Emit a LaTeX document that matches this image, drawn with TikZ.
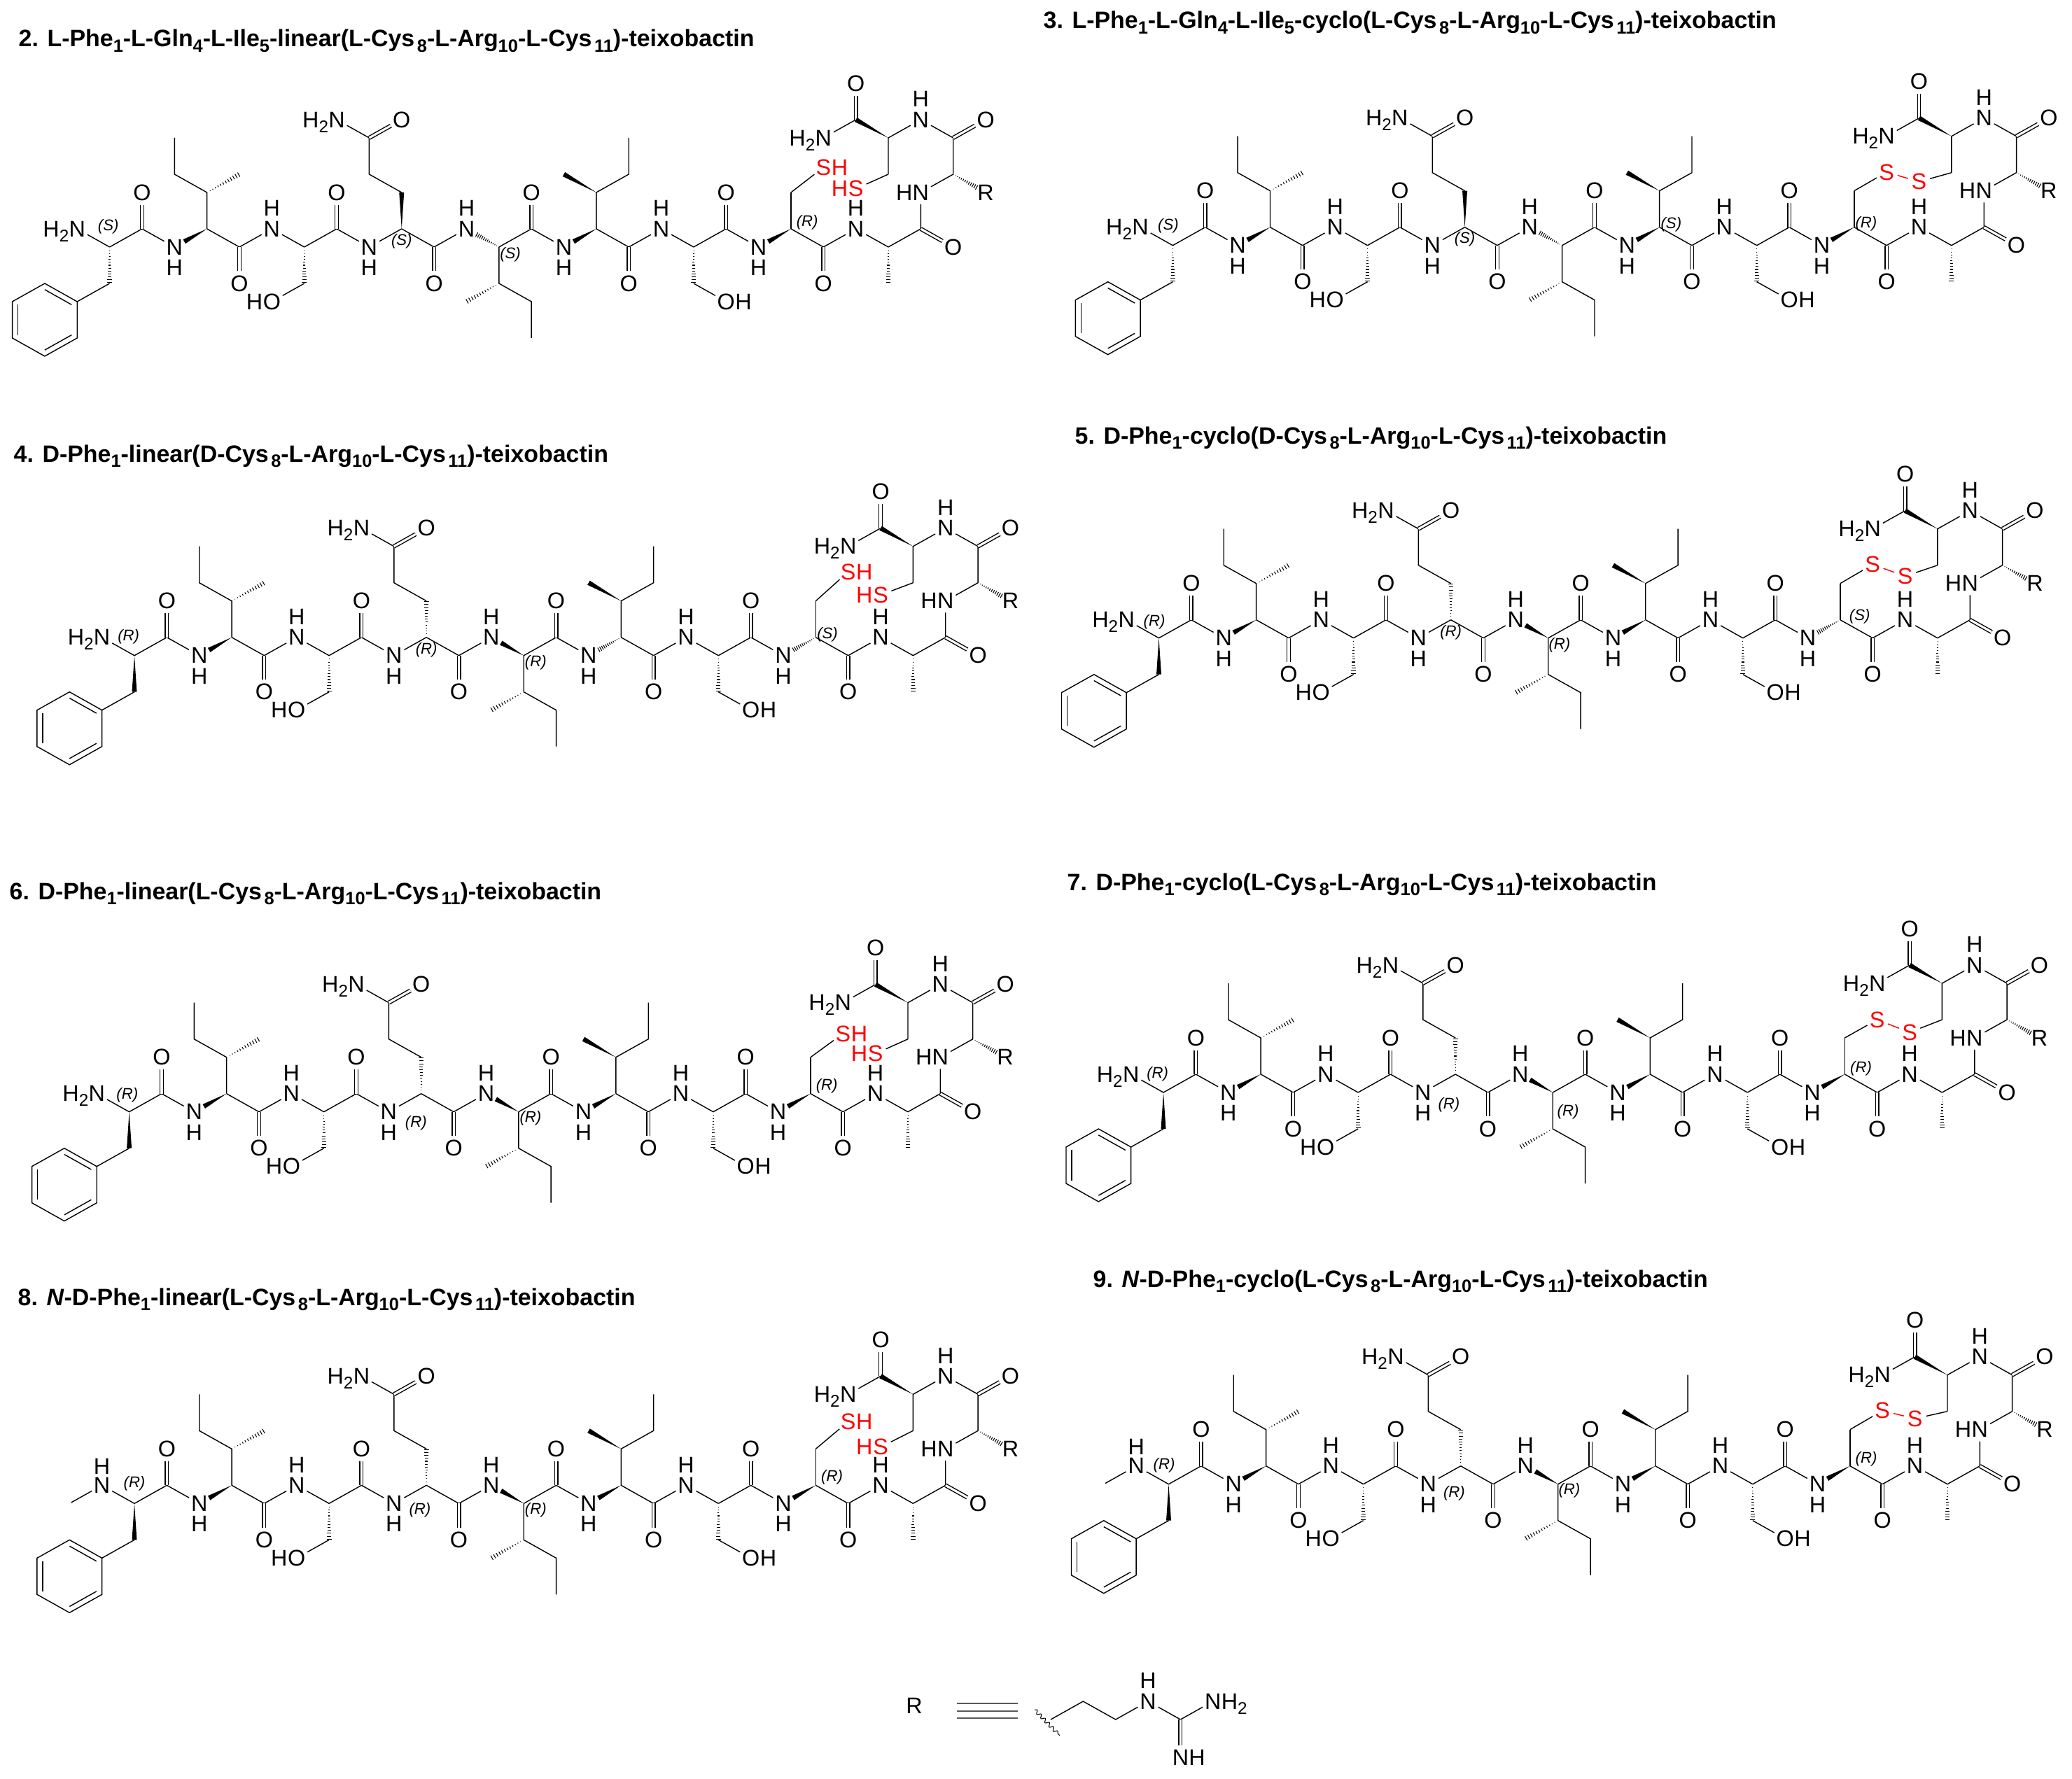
\documentclass[tikz,border=0pt]{standalone}
\usepackage{fontspec}
\setmainfont{Liberation Sans}
\usetikzlibrary{calc,decorations.pathmorphing}

\tikzset{
  atom/.style={circle, inner sep=0pt, font=\fontsize{9.2}{11}\selectfont},
  atomtxt/.style={inner sep=0pt, font=\fontsize{9.2}{11}\selectfont},
  redatom/.style={atom, text=red},
  redtxt/.style={atomtxt, text=red},
  stereo/.style={inner sep=0pt, font=\fontsize{6.3}{7}\selectfont\itshape},
  molname/.style={inner sep=0pt, anchor=base west, font=\fontsize{9.65}{11}\selectfont\bfseries},
  bond/.style={line width=.4pt},
  dbond/.style={line width=.4pt, double, double distance=.9pt},
  hashline/.style={line width=.3pt}
}

% subscript digits
\newcommand{\sbd}[1]{\raisebox{-.22em}{\scalebox{.75}{#1}}}

% narrow end at #2, wide end at #3, pulled back by #1
\newcommand{\wedgebond}[3][0cm]{
  \coordinate (wend) at ($(#3)!#1!(#2)$);
  \fill (#2) -- ($(wend)!.035cm!90:(#2)$) -- ($(wend)!.035cm!-90:(#2)$) -- cycle;
}
\newcommand{\hashbond}[3][0cm]{
  \coordinate (wend) at ($(#3)!#1!(#2)$);
  \coordinate (wl) at ($(wend)!.035cm!90:(#2)$);
  \coordinate (wr) at ($(wend)!.035cm!-90:(#2)$);
  \foreach \t in {.1,.18,...,1.02} {
    \draw [hashline] ($(#2)!\t!(wl)$) -- ($(#2)!\t!(wr)$);
  }
}

% N-terminal ends
\newcommand{\aminoend}{
  \node [atom] (nt) at (-1,1) {N};
  \node [atomtxt, anchor=base east] (nth) at ([xshift=-.113cm]nt.base) {H\sbd{2}};
  \draw [bond] (b0) -- (nt);
}
\newcommand{\methylend}{
  \node [atom] (nt) at (-1,1) {N};
  \node [atomtxt] (nth) at (-1,2.05) {H};
  \coordinate (ntm) at (-1.95,.05);
  \draw [bond] (b0) -- (nt) -- (ntm);
}

% the two sulfurs
\newcommand{\thiols}[2]{
  \node [redatom] (sa) at (22,#1) {S};
  \node [redtxt, anchor=base west] (sah) at ([xshift=.108cm]sa.base) {H};
  \node [redatom] (sb) at (23,#2) {S};
  \node [redtxt, anchor=base east] (sbh) at ([xshift=-.108cm]sb.base) {H};
  \draw [bond] (c8b) -- (sa);
  \draw [bond] (c11b) -- (sb);
}
\newcommand{\disulfide}[2]{
  \node [redatom] (sa) at (22,#1) {S};
  \node [redatom] (sb) at (23,#2) {S};
  \draw [bond] (c8b) -- (sa);
  \draw [bond] (c11b) -- (sb);
  \draw [bond, red] (sa) -- (sb);
}

% #1 id, #2 #3 place of the Phe alpha carbon, #4..#8 the bonds that change, #9 the rest
\newcommand{\teixo}[9]{
  \begin{scope}[shift={(#2,#3)}, x=.4635cm, y=.26cm, name prefix=#1-]
    % Backbone
    \foreach \i/\j in {0/0,1/1,3/1,4/0,6/0,7/1,9/1,10/0,12/0,13/1,15/1,16/0,18/0,19/1,21/1,22/0,24/0,25/1} {
      \coordinate (b\i) at (\i,\j);
    }
    \foreach \i/\j/\h in {2/0/-1.13,5/1/2.13,8/0/-1.13,11/1/2.13,14/0/-1.13,17/1/2.13,20/0/-1.13,23/1/2.13} {
      \node [atom] (b\i) at (\i,\j) {N};
      \node [atomtxt] (h\i) at (\i,\h) {H};
    }
    \foreach \i/\k in {0/1,1/2,3/4,4/5,5/6,6/7,7/8,8/9,9/10,10/11,12/13,13/14,15/16,16/17,17/18,18/19,19/20,21/22,22/23,23/24,24/25} {
      \draw [bond] (b\i) -- (b\k);
    }
    % Carbonyls
    \foreach \i/\j in {1/3,4/-2,7/3,10/-2,13/3,16/-2,19/3,22/-2} {
      \node [atom] (o\i) at (\i,\j) {O};
      \draw [dbond] (b\i) -- (o\i);
    }
    \node [atom] (o25) at (26,0) {O};
    \draw [dbond] (b25) -- (o25);

    % Phe
    \coordinate (phb) at (0,-2);
    \coordinate (rgc) at (-2,-4);
    \foreach \i/\x/\y in {1/-1/-3,2/-2/-2,3/-3/-3,4/-3/-5,5/-2/-6,6/-1/-5} {
      \coordinate (rg\i) at (\x,\y);
    }
    \draw [bond] (phb) -- (rg1);
    \draw [bond] (rg1) -- (rg2) -- (rg3) -- (rg4) -- (rg5) -- (rg6) -- cycle;
    \foreach \i/\k in {1/2,3/4,5/6} {
      \draw [bond] ($(rg\i)!.17!(rgc)$) -- ($(rg\k)!.17!(rgc)$);
    }
    #4{b0}{phb}

    % Ile 2
    \coordinate (i2b) at (3,3);
    \coordinate (i2g) at (2,4);
    \coordinate (i2d) at (2,6);
    \coordinate (i2m) at (4,4);
    \draw [bond] (b3) -- (i2b) -- (i2g) -- (i2d);
    \hashbond{i2b}{i2m}
    \wedgebond[.16cm]{b3}{b2}

    % Ser 3
    \coordinate (s3b) at (6,-2);
    \node [atom] (s3o) at (5,-3) {O};
    \node [atomtxt, anchor=base east] (s3h) at ([xshift=-.125cm]s3o.base) {H};
    \draw [bond] (s3b) -- (s3o);
    \hashbond{b6}{s3b}

    % Gln 4
    \coordinate (q4b) at (9,3);
    \coordinate (q4g) at (8,4);
    \coordinate (q4d) at (8,6);
    \node [atom] (q4o) at (9,7) {O};
    \node [atom] (q4n) at (7,7) {N};
    \node [atomtxt, anchor=base east] (q4h) at ([xshift=-.113cm]q4n.base) {H\sbd{2}};
    \draw [bond] (q4b) -- (q4g) -- (q4d) -- (q4n);
    \draw [dbond] (q4d) -- (q4o);
    #5{b9}{q4b}

    % Ile 5
    \coordinate (i5b) at (12,-2);
    \coordinate (i5g) at (13,-3);
    \coordinate (i5d) at (13,-5);
    \coordinate (i5m) at (11,-3);
    \draw [bond] (b12) -- (i5b) -- (i5g) -- (i5d);
    \hashbond{i5b}{i5m}
    #6[.16cm]{b12}{b11}

    % Ile 6
    \coordinate (i6b) at (15,3);
    \coordinate (i6g) at (16,4);
    \coordinate (i6d) at (16,6);
    \coordinate (i6m) at (14,4);
    \draw [bond] (b15) -- (i6b) -- (i6g) -- (i6d);
    \wedgebond{i6b}{i6m}
    #7[.16cm]{b15}{b14}

    % Ser 7
    \coordinate (s7b) at (18,-2);
    \node [atom] (s7o) at (19,-3) {O};
    \node [atomtxt, anchor=base west] (s7h) at ([xshift=.125cm]s7o.base) {H};
    \draw [bond] (s7b) -- (s7o);
    \hashbond{b18}{s7b}

    % Cys 8
    \coordinate (c8b) at (21,3);
    \draw [bond] (b21) -- (c8b);
    #8[.16cm]{b21}{b20}

    % Ala 9
    \coordinate (a9m) at (24,-2);
    \hashbond{b24}{a9m}

    % Arg 10 and Cys 11
    \node [atom] (r10n) at (25,3) {N};
    \node [atomtxt, anchor=base east] (r10h) at ([xshift=-.113cm]r10n.base) {H};
    \coordinate (r10a) at (26,4);
    \coordinate (r10c) at (26,6);
    \node [atom] (r10r) at (27,3) {R};
    \node [atom] (r10o) at (27,7) {O};
    \node [atom] (c11n) at (25,7) {N};
    \node [atomtxt] (c11h) at (25,8.13) {H};
    \coordinate (c11a) at (24,6);
    \coordinate (c11b) at (24,4);
    \coordinate (c11c) at (23,7);
    \node [atom] (c11o) at (23,9) {O};
    \node [atom] (c11t) at (22,6) {N};
    \node [atomtxt, anchor=base east] (c11u) at ([xshift=-.113cm]c11t.base) {H\sbd{2}};
    \draw [bond] (b25) -- (r10n) -- (r10a) -- (r10c) -- (c11n) -- (c11a) -- (c11b);
    \draw [dbond] (r10c) -- (r10o);
    \draw [bond] (c11c) -- (c11t);
    \draw [dbond] (c11c) -- (c11o);
    \hashbond[.14cm]{r10a}{r10r}
    \wedgebond{c11a}{c11c}

    #9
  \end{scope}
}

\begin{document}
\begin{tikzpicture}
  \useasboundingbox (0,0) rectangle (29.6,-25.41);

  % Names
  \node [molname] (name2) at (.26,-.67) {2. L-Phe\sbd{1}-L-Gln\sbd{4}-L-Ile\sbd{5}-linear(L-Cys\kern1pt\sbd{8}-L-Arg\sbd{10}-L-Cys\kern1pt\sbd{11})-teixobactin};
  \node [molname] (name3) at (14.9,-.41) {3. L-Phe\sbd{1}-L-Gln\sbd{4}-L-Ile\sbd{5}-cyclo(L-Cys\kern1pt\sbd{8}-L-Arg\sbd{10}-L-Cys\kern1pt\sbd{11})-teixobactin};
  \node [molname] (name4) at (.19,-6.6) {4. D-Phe\sbd{1}-linear(D-Cys\kern1pt\sbd{8}-L-Arg\sbd{10}-L-Cys\kern1pt\sbd{11})-teixobactin};
  \node [molname] (name5) at (15.35,-6.34) {5. D-Phe\sbd{1}-cyclo(D-Cys\kern1pt\sbd{8}-L-Arg\sbd{10}-L-Cys\kern1pt\sbd{11})-teixobactin};
  \node [molname] (name6) at (.13,-12.85) {6. D-Phe\sbd{1}-linear(L-Cys\kern1pt\sbd{8}-L-Arg\sbd{10}-L-Cys\kern1pt\sbd{11})-teixobactin};
  \node [molname] (name7) at (15.24,-12.72) {7. D-Phe\sbd{1}-cyclo(L-Cys\kern1pt\sbd{8}-L-Arg\sbd{10}-L-Cys\kern1pt\sbd{11})-teixobactin};
  \node [molname] (name8) at (.25,-18.65) {8. \textit{N}-D-Phe\sbd{1}-linear(L-Cys\kern1pt\sbd{8}-L-Arg\sbd{10}-L-Cys\kern1pt\sbd{11})-teixobactin};
  \node [molname] (name9) at (15.61,-18.39) {9. \textit{N}-D-Phe\sbd{1}-cyclo(L-Cys\kern1pt\sbd{8}-L-Arg\sbd{10}-L-Cys\kern1pt\sbd{11})-teixobactin};

  % Compounds
  \teixo{m2}{1.566}{-3.53}{\hashbond}{\wedgebond}{\hashbond}{\wedgebond}{\wedgebond}{
    \aminoend
    \thiols{4.38}{3.2}
    \node [stereo] (st1) at (-.04,1.13) {(S)};
    \node [stereo] (st2) at (9,.33) {(S)};
    \node [stereo] (st3) at (12.35,-.4) {(S)};
    \node [stereo] (st4) at (21.5,1.34) {(R)};
  }
  \teixo{m3}{16.754}{-3.507}{\hashbond}{\wedgebond}{\hashbond}{\wedgebond}{\wedgebond}{
    \aminoend
    \disulfide{4.03}{3.5}
    \node [stereo] (st1) at (-.14,1.08) {(S)};
    \node [stereo] (st2) at (9,.35) {(S)};
    \node [stereo] (st3) at (15.36,1.15) {(S)};
    \node [stereo] (st4) at (21.37,1.18) {(R)};
  }
  \teixo{m4}{1.92}{-9.367}{\wedgebond}{\hashbond}{\wedgebond}{\hashbond}{\hashbond}{
    \aminoend
    \thiols{4.6}{3.33}
    \node [stereo] (st1) at (-.18,1.05) {(R)};
    \node [stereo] (st2) at (9,.32) {(R)};
    \node [stereo] (st3) at (12.37,-.38) {(R)};
    \node [stereo] (st4) at (21.36,1.15) {(S)};
  }
  \teixo{m5}{16.555}{-9.117}{\wedgebond}{\hashbond}{\wedgebond}{\wedgebond}{\hashbond}{
    \aminoend
    \disulfide{4.04}{3.4}
    \node [stereo] (st1) at (-.14,.9) {(R)};
    \node [stereo] (st2) at (9,.32) {(R)};
    \node [stereo] (st3) at (12.35,-.38) {(R)};
    \node [stereo] (st4) at (21.6,1.2) {(S)};
  }
  \teixo{m6}{1.846}{-15.887}{\wedgebond}{\hashbond}{\wedgebond}{\wedgebond}{\wedgebond}{
    \aminoend
    \thiols{4.3}{3.2}
    \node [stereo] (st1) at (-.06,.91) {(R)};
    \node [stereo] (st2) at (8.84,-.6) {(R)};
    \node [stereo] (st3) at (12.37,-.33) {(R)};
    \node [stereo] (st4) at (21.5,1.42) {(R)};
  }
  \teixo{m7}{16.62}{-15.61}{\wedgebond}{\hashbond}{\wedgebond}{\wedgebond}{\wedgebond}{
    \aminoend
    \disulfide{4}{3.3}
    \node [stereo] (st1) at (-.18,1) {(R)};
    \node [stereo] (st2) at (8.8,-.7) {(R)};
    \node [stereo] (st3) at (12.47,-1.05) {(R)};
    \node [stereo] (st4) at (21.5,1.32) {(R)};
  }
  \teixo{m8}{1.92}{-21.483}{\wedgebond}{\hashbond}{\wedgebond}{\wedgebond}{\wedgebond}{
    \methylend
    \thiols{4.5}{3.1}
    \node [stereo] (st1) at (0,1.1) {(R)};
    \node [stereo] (st2) at (8.8,-.38) {(R)};
    \node [stereo] (st3) at (12.37,-.35) {(R)};
    \node [stereo] (st4) at (21.5,1.45) {(R)};
  }
  \teixo{m9}{16.695}{-21.207}{\wedgebond}{\hashbond}{\wedgebond}{\wedgebond}{\wedgebond}{
    \methylend
    \disulfide{4.04}{3.6}
    \node [stereo] (st1) at (-.14,1.05) {(R)};
    \node [stereo] (st2) at (8.8,-.5) {(R)};
    \node [stereo] (st3) at (12.35,-.36) {(R)};
    \node [stereo] (st4) at (21.5,1.4) {(R)};
  }

  % R group
  \node [atom] (rlabel) at (13.06,-24.37) {R};
  \foreach \y in {-24.34,-24.45,-24.55} {
    \draw [line width=.6pt, black!65] (13.67,\y) -- (14.54,\y);
  }
  \draw [line width=.3pt, decorate, decoration={snake, amplitude=.7pt, segment length=2.4pt}] (14.78,-24.43) -- (15.14,-24.8);
  \begin{scope}[shift={(15.01,-24.57)}, x=.4635cm, y=.26cm]
    \coordinate (g0) at (0,0);
    \coordinate (g1) at (1,1);
    \coordinate (g2) at (2,0);
    \node [atom] (g3) at (3,1) {N};
    \node [atomtxt] (g3h) at (3,2.13) {H};
    \coordinate (g4) at (4,0);
    \node [atom] (g5) at (5,1) {N};
    \node [atomtxt, anchor=base west] (g5h) at ([xshift=.113cm]g5.base) {H\sbd{2}};
    \node [atom] (g6) at (4,-2.08) {N};
    \node [atomtxt, anchor=base west] (g6h) at ([xshift=.113cm]g6.base) {H};
    \draw [bond] (g0) -- (g1) -- (g2) -- (g3) -- (g4) -- (g5);
    \draw [dbond] (g4) -- (g6);
  \end{scope}
\end{tikzpicture}
\end{document}
